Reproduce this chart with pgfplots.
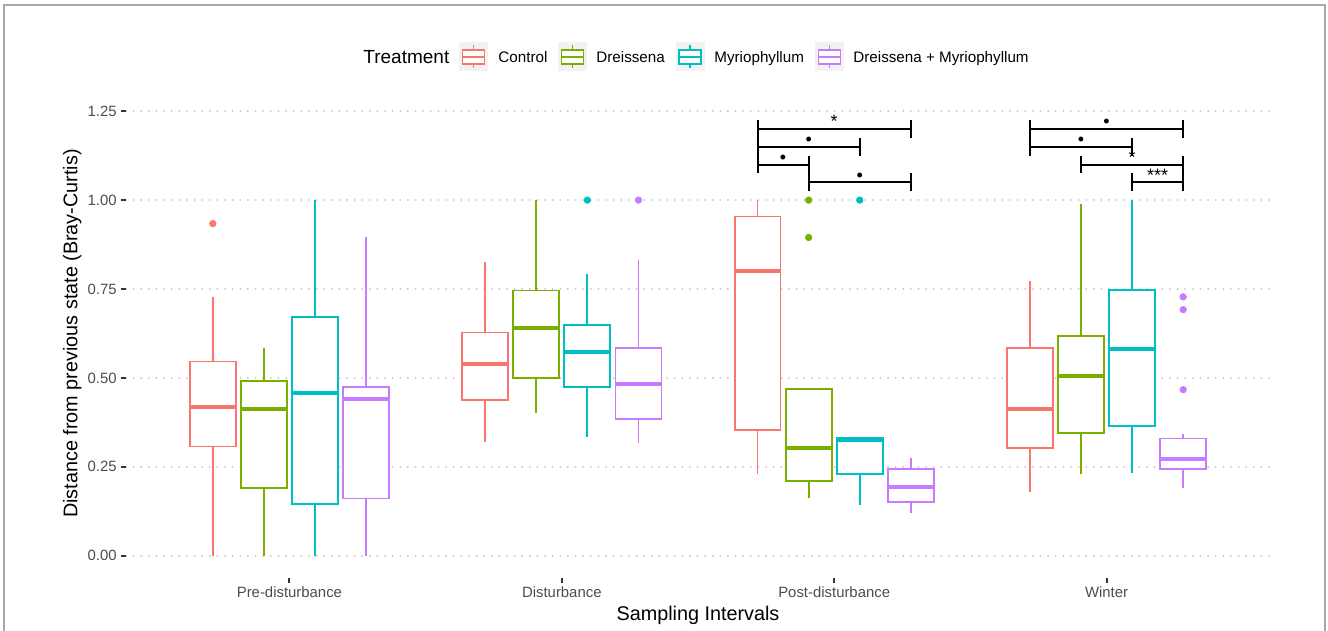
\documentclass[border=0pt]{standalone}
\usepackage{pgfplots}
\pgfplotsset{compat=1.18}
\usepgfplotslibrary{statistics}
\usepackage{fontspec}
\setmainfont{Liberation Sans}
\definecolor{cC}{HTML}{F8766D}
\definecolor{cD}{HTML}{7CAE00}
\definecolor{cM}{HTML}{00BFC4}
\definecolor{cDM}{HTML}{C77CFF}
\definecolor{tickc}{HTML}{333333}
\definecolor{labc}{HTML}{4D4D4D}
\definecolor{gridc}{HTML}{C4C4C4}
\definecolor{keybg}{HTML}{F2F2F2}
\definecolor{framec}{HTML}{A8A8A8}
\pgfplotsset{
  bx/.style={
    color=#1, line width=0.9pt, mark=*, mark size=1.65pt,
    mark options={solid, fill=#1, draw=#1, line width=0.3pt},
    boxplot/draw direction=y,
    boxplot/box extend=0.16875,
    boxplot/whisker extend=0,
    boxplot/every box/.style={draw=#1, fill=white, line width=0.9pt},
    boxplot/every whisker/.style={draw=#1, line width=0.9pt},
    boxplot/every median/.style={draw=#1, line width=2pt},
  },
  br/.style={black, line width=1pt, mark=none, unbounded coords=jump},
}
\begin{document}
\begin{tikzpicture}
\path[use as bounding box] (0,0) rectangle (664pt,315.5pt);
\begin{axis}[
  at={(63pt,26.5pt)}, anchor=south west,
  scale only axis, width=572pt, height=244.5pt,
  xmin=0.4, xmax=4.6, ymin=-0.0625, ymax=1.3125,
  axis lines*=left, axis line style={draw=none},
  xtick={1,2,3,4},
  xticklabels={Pre-disturbance,Disturbance,Post-disturbance,Winter},
  ytick={0,0.25,0.5,0.75,1,1.25},
  yticklabels={0.00,0.25,0.50,0.75,1.00,1.25},
  tick align=outside, major tick length=2.5pt,
  tick style={tickc, line width=1pt},
  ticklabel style={font=\fontsize{7.45}{8}\selectfont, text=labc},
  xticklabel style={inner sep=0pt, yshift=-1.5pt},
  yticklabel style={inner sep=0pt, xshift=-2pt},
  ymajorgrids,
  grid style={gridc, line width=1pt, dash pattern=on 0.01pt off 3.8pt, line cap=round},
  xlabel={Sampling Intervals},
  xlabel style={at={(axis description cs:0.5,-0.0757)}, anchor=center, font=\fontsize{9.9}{11}\selectfont},
  ylabel={Distance from previous state (Bray-Curtis)},
  ylabel style={at={(axis description cs:-0.047,0.5)}, anchor=center, font=\fontsize{9.9}{11}\selectfont},
]
% ---------- Pre-disturbance ----------
\addplot[bx=cC, boxplot prepared={draw position=0.71875, lower whisker=0, lower quartile=0.307, median=0.417, upper quartile=0.546, upper whisker=0.728}]
  table[row sep=\\, y index=0] {v\\ 0.934\\};
\addplot[bx=cD, boxplot prepared={draw position=0.90625, lower whisker=0, lower quartile=0.190, median=0.413, upper quartile=0.492, upper whisker=0.583}]
  coordinates {};
\addplot[bx=cM, boxplot prepared={draw position=1.09375, lower whisker=0, lower quartile=0.145, median=0.457, upper quartile=0.671, upper whisker=1.0}]
  coordinates {};
\addplot[bx=cDM, boxplot prepared={draw position=1.28125, lower whisker=0, lower quartile=0.161, median=0.441, upper quartile=0.475, upper whisker=0.896}]
  coordinates {};
% ---------- Disturbance ----------
\addplot[bx=cC, boxplot prepared={draw position=1.71875, lower whisker=0.319, lower quartile=0.438, median=0.538, upper quartile=0.628, upper whisker=0.825}]
  coordinates {};
\addplot[bx=cD, boxplot prepared={draw position=1.90625, lower whisker=0.401, lower quartile=0.500, median=0.640, upper quartile=0.746, upper whisker=1.0}]
  coordinates {};
\addplot[bx=cM, boxplot prepared={draw position=2.09375, lower whisker=0.333, lower quartile=0.474, median=0.572, upper quartile=0.650, upper whisker=0.791}]
  table[row sep=\\, y index=0] {v\\ 1.0\\};
\addplot[bx=cDM, boxplot prepared={draw position=2.28125, lower whisker=0.317, lower quartile=0.385, median=0.483, upper quartile=0.585, upper whisker=0.831}]
  table[row sep=\\, y index=0] {v\\ 1.0\\};
% ---------- Post-disturbance ----------
\addplot[bx=cC, boxplot prepared={draw position=2.71875, lower whisker=0.231, lower quartile=0.353, median=0.802, upper quartile=0.954, upper whisker=1.0}]
  coordinates {};
\addplot[bx=cD, boxplot prepared={draw position=2.90625, lower whisker=0.162, lower quartile=0.210, median=0.302, upper quartile=0.469, upper whisker=0.469}]
  table[row sep=\\, y index=0] {v\\ 1.0\\ 0.895\\};
\addplot[bx=cM, boxplot prepared={draw position=3.09375, lower whisker=0.143, lower quartile=0.230, median=0.326, upper quartile=0.331, upper whisker=0.331}]
  table[row sep=\\, y index=0] {v\\ 1.0\\};
\addplot[bx=cDM, boxplot prepared={draw position=3.28125, lower whisker=0.121, lower quartile=0.151, median=0.192, upper quartile=0.244, upper whisker=0.275}]
  coordinates {};
% ---------- Winter ----------
\addplot[bx=cC, boxplot prepared={draw position=3.71875, lower whisker=0.180, lower quartile=0.303, median=0.412, upper quartile=0.585, upper whisker=0.772}]
  coordinates {};
\addplot[bx=cD, boxplot prepared={draw position=3.90625, lower whisker=0.230, lower quartile=0.345, median=0.506, upper quartile=0.617, upper whisker=0.988}]
  coordinates {};
\addplot[bx=cM, boxplot prepared={draw position=4.09375, lower whisker=0.232, lower quartile=0.364, median=0.581, upper quartile=0.747, upper whisker=1.0}]
  coordinates {};
\addplot[bx=cDM, boxplot prepared={draw position=4.28125, lower whisker=0.190, lower quartile=0.245, median=0.273, upper quartile=0.330, upper whisker=0.341}]
  table[row sep=\\, y index=0] {v\\ 0.728\\ 0.692\\ 0.467\\};
% ---------- significance brackets ----------
\addplot[br] coordinates {(2.71875,1.225) (2.71875,1.175) (nan,nan) (2.71875,1.2) (3.28125,1.2) (nan,nan) (3.28125,1.225) (3.28125,1.175)};
\addplot[br] coordinates {(2.71875,1.175) (2.71875,1.125) (nan,nan) (2.71875,1.15) (3.09375,1.15) (nan,nan) (3.09375,1.175) (3.09375,1.125)};
\addplot[br] coordinates {(2.71875,1.125) (2.71875,1.075) (nan,nan) (2.71875,1.10) (2.90625,1.10) (nan,nan) (2.90625,1.125) (2.90625,1.075)};
\addplot[br] coordinates {(2.90625,1.075) (2.90625,1.025) (nan,nan) (2.90625,1.05) (3.28125,1.05) (nan,nan) (3.28125,1.075) (3.28125,1.025)};
\addplot[br] coordinates {(3.71875,1.225) (3.71875,1.175) (nan,nan) (3.71875,1.2) (4.28125,1.2) (nan,nan) (4.28125,1.225) (4.28125,1.175)};
\addplot[br] coordinates {(3.71875,1.175) (3.71875,1.125) (nan,nan) (3.71875,1.15) (4.09375,1.15) (nan,nan) (4.09375,1.175) (4.09375,1.125)};
\addplot[br] coordinates {(3.90625,1.125) (3.90625,1.075) (nan,nan) (3.90625,1.10) (4.28125,1.10) (nan,nan) (4.28125,1.125) (4.28125,1.075)};
\addplot[br] coordinates {(4.09375,1.075) (4.09375,1.025) (nan,nan) (4.09375,1.05) (4.28125,1.05) (nan,nan) (4.28125,1.075) (4.28125,1.025)};
\begin{scope}[every node/.style={font=\fontsize{9}{10}\selectfont, anchor=base, inner sep=0pt}]
\node at (axis cs:3.0,1.203) {*};
\node at (axis cs:2.90625,1.153) {•};
\node at (axis cs:2.8125,1.103) {•};
\node at (axis cs:3.09375,1.053) {•};
\node at (axis cs:4.0,1.203) {•};
\node at (axis cs:3.90625,1.153) {•};
\node at (axis cs:4.09375,1.103) {*};
\node at (axis cs:4.1875,1.053) {***};
\end{scope}
\end{axis}
% ---------- frame and legend (pixel coordinates) ----------
\begin{scope}[shift={(0,315.5pt)}, x=0.5pt, y=-0.5pt]
\draw[framec, line width=0.8pt] (4,632) -- (4,5) -- (1325,5) -- (1325,632);
\node[anchor=base west, inner sep=0pt, font=\fontsize{9.5}{11}\selectfont] at (363,64) {Treatment};
\foreach \cx/\col/\tx/\lab in {473.5/cC/498/Control, 572.5/cD/596/Dreissena, 690/cM/714/Myriophyllum, 829.5/cDM/853/Dreissena + Myriophyllum}{
  \fill[keybg] (\cx-14.5,42.5) rectangle (\cx+14.5,71.5);
  \draw[\col, line width=0.7pt, fill=white] (\cx-11,50) rectangle (\cx+11,64);
  \draw[\col, line width=0.7pt] (\cx-11,57) -- (\cx+11,57);
  \draw[\col, line width=0.7pt] (\cx,50) -- (\cx,45.5) (\cx,64) -- (\cx,68.5);
  \node[anchor=base west, inner sep=0pt, font=\fontsize{7.6}{9}\selectfont] at (\tx,62.5) {\lab};
}
\end{scope}
\end{tikzpicture}
\end{document}
